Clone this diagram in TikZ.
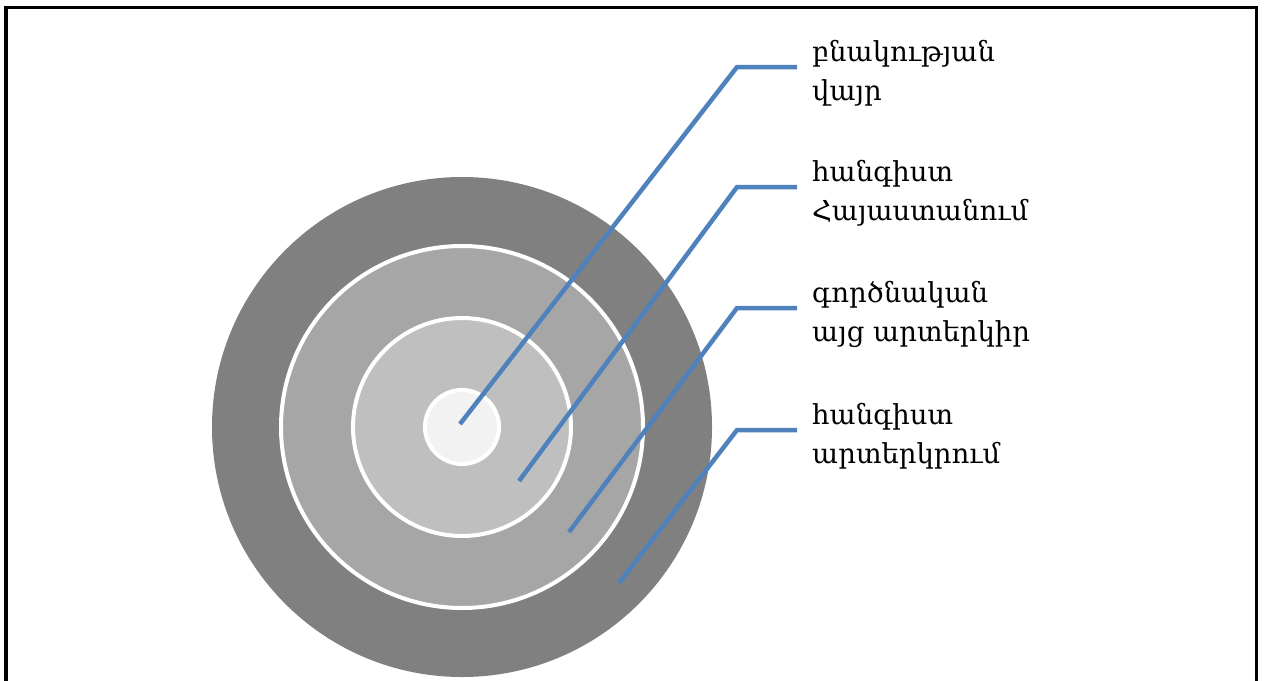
\documentclass[tikz,border=0pt]{standalone}
\usepackage{fontspec}
\setmainfont{DejaVu Serif}
\begin{document}
\begin{tikzpicture}[x=1pt,y=-1pt,
  ring/.style={draw=white,line width=4pt},
  leader/.style={draw=blueline,line width=4.5pt},
  lbl/.style={anchor=north west,align=left,inner sep=0pt,font=\fontsize{27.5}{39}\selectfont}]
\definecolor{ringA}{HTML}{808080}
\definecolor{ringB}{HTML}{A6A6A6}
\definecolor{ringC}{HTML}{BFBFBF}
\definecolor{ringD}{HTML}{F2F2F2}
\definecolor{blueline}{HTML}{4F81BD}
\useasboundingbox (0,0) rectangle (1265,680);
\begin{scope}
\clip (0,0) rectangle (1265,680);
% frame
\draw[line width=3.2pt] (6,7.5) rectangle (1256.5,720);
% concentric discs
\coordinate (o) at (462,427);
\fill[ringA] (o) circle[radius=250];
\filldraw[fill=ringB,ring] (o) circle[radius=181];
\filldraw[fill=ringC,ring] (o) circle[radius=109];
\filldraw[fill=ringD,ring] (o) circle[radius=37];
\end{scope}
% labels
\node[lbl] (l1) at (812,40) {բնակության\\վայր};
\node[lbl] (l2) at (812,160) {հանգիստ\\Հայաստանում};
\node[lbl] (l3) at (812,281) {գործնական\\այց արտերկիր};
\node[lbl] (l4) at (812,403) {հանգիստ\\արտերկրում};
% leader lines
\coordinate (a1) at (460,424);
\coordinate (a2) at (519,481);
\coordinate (a3) at (569,532);
\coordinate (a4) at (619,583);
\coordinate (k1) at (737,67);
\coordinate (k2) at (737,187);
\coordinate (k3) at (737,308);
\coordinate (k4) at (737,430);
\draw[leader] (a1) -- (k1) -- ([xshift=-15pt]k1 -| l1.west);
\draw[leader] (a2) -- (k2) -- ([xshift=-15pt]k2 -| l2.west);
\draw[leader] (a3) -- (k3) -- ([xshift=-15pt]k3 -| l3.west);
\draw[leader] (a4) -- (k4) -- ([xshift=-15pt]k4 -| l4.west);
\end{tikzpicture}
\end{document}
